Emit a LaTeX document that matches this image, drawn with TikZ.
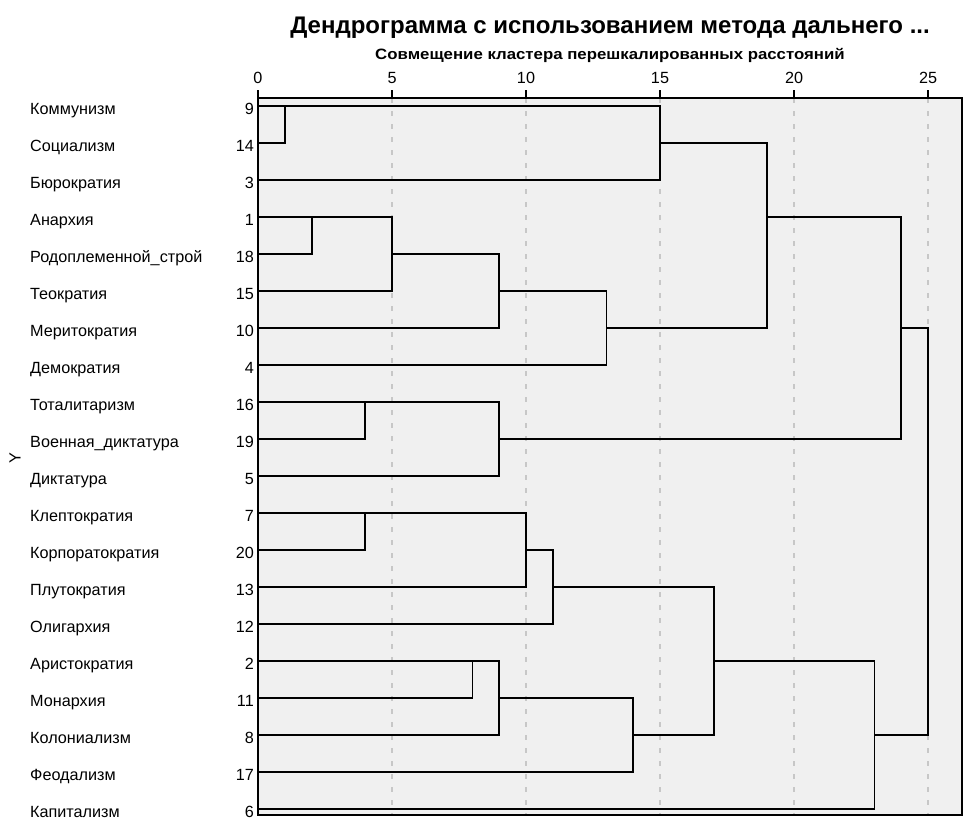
\documentclass[tikz,border=0pt]{standalone}
\usepackage{fontspec}
\setmainfont{Liberation Sans}
\begin{document}
\begin{tikzpicture}[x=1pt,y=1pt,
  lbl/.style={anchor=base west,inner sep=0pt,font=\fontsize{16.2}{18}\selectfont},
  num/.style={anchor=base east,inner sep=0pt,font=\fontsize{16.2}{18}\selectfont},
  tick/.style={anchor=base,inner sep=0pt,font=\fontsize{16.2}{18}\selectfont},
  link/.style={line width=1.8pt,black,line join=miter,line cap=rect},
  gridl/.style={line width=1.3pt,black!22,dash pattern=on 5pt off 8pt},
  frameline/.style={line width=1.4pt,black}]
\useasboundingbox (0,0) rectangle (974,-825);
\fill[white] (0,0) rectangle (974,-825);
% titles
\node[inner sep=0pt,font=\bfseries\fontsize{24}{27}\selectfont] (title) at (610,-28) {Дендрограмма с использованием метода дальнего ...};
\node[inner sep=0pt,font=\bfseries\fontsize{15}{17}\selectfont] (sub) at (610,-55) {\scalebox{1.12}[1]{Совмещение кластера перешкалированных расстояний}};
\node[inner sep=0pt,rotate=90,font=\fontsize{16.2}{18}\selectfont] (ylab) at (15,-458) {Y};
% labels
\foreach \r/\nm/\k in {0/Коммунизм/9,1/Социализм/14,2/Бюрократия/3,3/Анархия/1,4/Родоплеменной\_строй/18,
  5/Теократия/15,6/Меритократия/10,7/Демократия/4,8/Тоталитаризм/16,9/Военная\_диктатура/19,
  10/Диктатура/5,11/Клептократия/7,12/Корпоратократия/20,13/Плутократия/13,14/Олигархия/12,
  15/Аристократия/2,16/Монархия/11,17/Колониализм/8,18/Феодализм/17,19/Капитализм/6}{
  \node[lbl] (t\r) at (30,{-106-37*\r-8}) {\nm};
  \node[num] (n\r) at (254,{-106-37*\r-8}) {\k};
}
\begin{scope}[shift={(258,-106)},x=26.8pt,y=-37pt]
  \fill[black!6] (0,-0.216) rectangle (26.27,19.16);
  \foreach \u in {5,10,...,25} \draw[gridl] (\u,-0.216) -- (\u,19.16);
  \foreach \u in {0,5,...,25}{
    \draw[line width=1.4pt] (\u,-0.216) -- (\u,-0.44);
    \node[tick] (x\u) at (\u,-0.62) {\u};
  }
  \draw[frameline] (0,-0.216) rectangle (26.27,19.16);
  \foreach \r in {0,...,19} \coordinate (L\r) at (0,\r);
  \coordinate (a) at (1,0);
  \coordinate (b) at (15,1);
  \coordinate (c) at (2,3);
  \coordinate (d) at (5,4);
  \coordinate (e) at (9,5);
  \coordinate (f) at (13,6);
  \coordinate (g) at (19,3);
  \coordinate (h) at (4,8);
  \coordinate (i) at (9,9);
  \coordinate (j) at (24,6);
  \coordinate (k) at (4,11);
  \coordinate (l) at (10,12);
  \coordinate (m) at (11,13);
  \coordinate (n) at (8,15);
  \coordinate (o) at (9,16);
  \coordinate (p) at (14,17);
  \coordinate (q) at (17,15);
  \coordinate (s) at (23,17);
  \coordinate (t) at (25,12);
  \draw[link] (L0) -- (L0 -| a) -- (L1 -| a) -- (L1);
  \draw[link] (a) -- (a -| b) -- (L2 -| b) -- (L2);
  \draw[link] (L3) -- (L3 -| c) -- (L4 -| c) -- (L4);
  \draw[link] (c) -- (c -| d) -- (L5 -| d) -- (L5);
  \draw[link] (d) -- (d -| e) -- (L6 -| e) -- (L6);
  \draw[link] (e) -- (e -| f) -- (L7 -| f) -- (L7);
  \draw[link] (b) -- (b -| g) -- (f -| g) -- (f);
  \draw[link] (L8) -- (L8 -| h) -- (L9 -| h) -- (L9);
  \draw[link] (h) -- (h -| i) -- (L10 -| i) -- (L10);
  \draw[link] (g) -- (g -| j) -- (i -| j) -- (i);
  \draw[link] (L11) -- (L11 -| k) -- (L12 -| k) -- (L12);
  \draw[link] (k) -- (k -| l) -- (L13 -| l) -- (L13);
  \draw[link] (l) -- (l -| m) -- (L14 -| m) -- (L14);
  \draw[link] (L15) -- (L15 -| n) -- (L16 -| n) -- (L16);
  \draw[link] (n) -- (n -| o) -- (L17 -| o) -- (L17);
  \draw[link] (o) -- (o -| p) -- (L18 -| p) -- (L18);
  \draw[link] (m) -- (m -| q) -- (p -| q) -- (p);
  \draw[link] (q) -- (q -| s) -- (L19 -| s) -- (L19);
  \draw[link] (j) -- (j -| t) -- (s -| t) -- (s);
\end{scope}
\end{tikzpicture}
\end{document}
